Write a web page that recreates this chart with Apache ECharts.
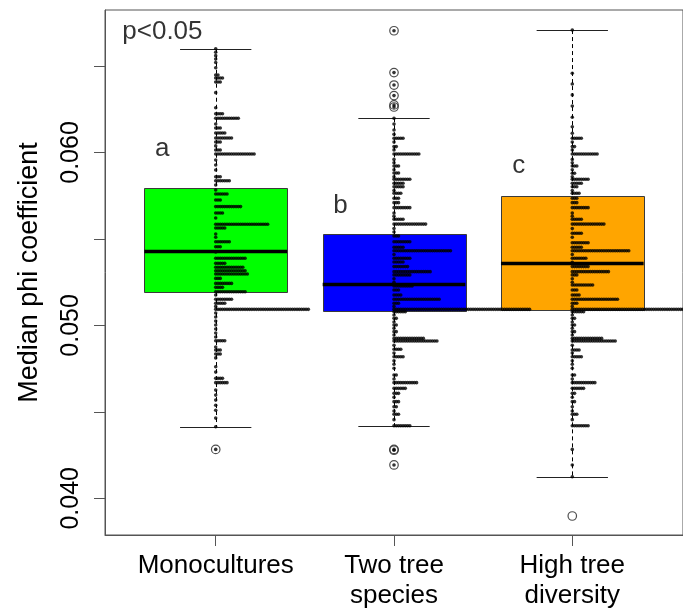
<!DOCTYPE html>
<html><head><meta charset="utf-8">
<script src="https://cdn.jsdelivr.net/npm/echarts@6/dist/echarts.min.js"></script>
<style>html,body{margin:0;padding:0;background:#fff}#c{width:683px;height:612px}</style>
</head><body><div id="c"></div>
<script>
// ---------- data ----------
const categories = ['Monocultures', 'Two tree\nspecies', 'High tree\ndiversity'];
const boxColors = ['#00FF00', '#0000FF', '#FFA500'];
const q1 = [0.05193, 0.05083, 0.05087];
const medians = [0.05428, 0.05237, 0.05358];
const q3 = [0.05792, 0.05527, 0.05747];
const whiskerLow = [0.04414, 0.04420, 0.04125];
const whiskerHigh = [0.06600, 0.06198, 0.06708];
const monoOutliers = [0.04283];
const twoOutliers = [0.06704, 0.06462, 0.06390, 0.06329, 0.06275, 0.06263, 0.04283, 0.04278, 0.04193];
const highOutliers = [0.03898];
const yTicks = [0.040, 0.045, 0.050, 0.055, 0.060, 0.065];
const yTickLabels = [0.040, 0.050, 0.060];
const letters = ['a', 'b', 'c'];
const letterX = [0.70, 1.70, 2.70];
const letterY = [0.0602, 0.0569, 0.0592];
const pText = 'p<0.05';
const pX = 0.476, pY = 0.0670;

// stacked strip points: [value, number of stacked points]
const monoStacks = [[0.0660,1],[0.0658,1],[0.0656,1],[0.0654,1],[0.0652,1],[0.0649,1],[0.06448,2],[0.06431,4],[0.06408,3],[0.06346,1],[0.06259,1],[0.06224,4],[0.06198,11],[0.06165,1],[0.06142,3],[0.06113,5],[0.06084,8],[0.06061,3],[0.06038,1],[0.06014,3],[0.05991,18],[0.05957,1],[0.05928,1],[0.05899,1],[0.05860,3],[0.05837,7],[0.05812,1],[0.05783,1],[0.05760,6],[0.05725,3],[0.05687,12],[0.05650,4],[0.05621,1],[0.05585,24],[0.05563,5],[0.05529,1],[0.05510,1],[0.05484,7],[0.05455,3],[0.05425,1],[0.05388,14],[0.05359,5],[0.05336,13],[0.05316,14],[0.05297,15],[0.05272,3],[0.05243,8],[0.05220,4],[0.05195,14],[0.05176,1],[0.05151,8],[0.05128,5],[0.05110,1],[0.05093,42],[0.05072,1],[0.05049,1],[0.05025,1],[0.05002,1],[0.04979,1],[0.04956,1],[0.04933,1],[0.04911,5],[0.04875,1],[0.04858,3],[0.04835,3],[0.04812,1],[0.04761,1],[0.04730,1],[0.04694,4],[0.04669,6],[0.04626,1],[0.04597,1],[0.04568,1],[0.04538,1],[0.04509,1],[0.04464,1],[0.04414,1],[0.04283,1]];
const twoStacks = [[0.06704,1],[0.06462,1],[0.06390,1],[0.06329,1],[0.06275,1],[0.06263,1],[0.06198,1],[0.06165,1],[0.06130,1],[0.06105,1],[0.06082,5],[0.06060,1],[0.06034,2],[0.06015,1],[0.05991,12],[0.05960,1],[0.05940,1],[0.05922,3],[0.05900,1],[0.05881,3],[0.05860,1],[0.05845,8],[0.05822,5],[0.05802,5],[0.05780,1],[0.05764,4],[0.05735,3],[0.05710,3],[0.05681,8],[0.05650,1],[0.05632,1],[0.05614,5],[0.05586,15],[0.05560,1],[0.05540,1],[0.05517,3],[0.05484,8],[0.05452,5],[0.05432,26],[0.05410,1],[0.05388,8],[0.05367,5],[0.05340,7],[0.05311,17],[0.05292,8],[0.05270,1],[0.05250,1],[0.05228,9],[0.05205,3],[0.05176,4],[0.05151,21],[0.05128,3],[0.05110,1],[0.05093,61],[0.05079,6],[0.05060,1],[0.05041,2],[0.05020,1],[0.05002,2],[0.04983,1],[0.04964,2],[0.04945,1],[0.04925,14],[0.04910,20],[0.04885,1],[0.04862,4],[0.04840,1],[0.04819,5],[0.04795,1],[0.04775,1],[0.04752,1],[0.04713,2],[0.04690,1],[0.04669,11],[0.04636,6],[0.04607,3],[0.04585,1],[0.04559,3],[0.04530,2],[0.04505,1],[0.04486,3],[0.04455,1],[0.04420,8],[0.04283,1],[0.04278,1],[0.04193,1]];
const highStacks = [[0.06708,1],[0.06458,1],[0.06396,1],[0.06333,1],[0.06269,1],[0.06204,1],[0.06149,1],[0.06111,1],[0.06082,5],[0.06060,1],[0.06034,2],[0.06015,1],[0.05991,12],[0.05960,1],[0.05940,1],[0.05922,3],[0.05900,1],[0.05880,2],[0.05860,1],[0.05845,8],[0.05822,5],[0.05802,3],[0.05780,1],[0.05764,4],[0.05735,3],[0.05710,3],[0.05681,8],[0.05650,1],[0.05632,1],[0.05614,5],[0.05586,15],[0.05560,1],[0.05533,5],[0.05510,1],[0.05478,8],[0.05452,5],[0.05432,26],[0.05410,1],[0.05388,7],[0.05365,1],[0.05340,8],[0.05311,17],[0.05292,3],[0.05270,1],[0.05250,1],[0.05234,10],[0.05205,3],[0.05176,4],[0.05151,21],[0.05128,3],[0.05110,1],[0.05093,61],[0.05079,6],[0.05060,1],[0.05041,2],[0.05020,1],[0.05002,2],[0.04983,1],[0.04964,2],[0.04945,1],[0.04925,14],[0.04910,20],[0.04885,1],[0.04858,4],[0.04840,1],[0.04819,5],[0.04795,1],[0.04775,1],[0.04752,1],[0.04713,2],[0.04690,1],[0.04669,11],[0.04636,6],[0.04607,2],[0.04585,1],[0.04559,2],[0.04530,1],[0.04505,1],[0.04486,3],[0.04455,1],[0.04420,8],[0.04283,1],[0.04193,1],[0.04125,1]];

// ---------- build ----------
const FONT = 'Liberation Sans, Arial, sans-serif';
const DOT_STEP = 0.01267;   // horizontal spacing of stacked points (x-axis units)
const BOX_HALF = 0.4, CAP_HALF = 0.2;

function stackPoints(center, stacks) {
  const pts = [];
  stacks.forEach(([v, n]) => { for (let k = 0; k < n; k++) pts.push([center + k * DOT_STEP, v]); });
  return pts;
}
const dotData = [].concat(stackPoints(1, monoStacks), stackPoints(2, twoStacks), stackPoints(3, highStacks));
const outlierData = [].concat(monoOutliers.map(v => [1, v]), twoOutliers.map(v => [2, v]), highOutliers.map(v => [3, v]));
const boxData = categories.map((c, i) => [i + 1, q1[i], medians[i], q3[i], whiskerLow[i], whiskerHigh[i]]);
const textData = letters.map((t, i) => ({ value: [letterX[i], letterY[i]], name: t }));

const crisp = v => Math.round(v) + 0.5;

const chart = echarts.init(document.getElementById('c'), null, { renderer: 'canvas' });
chart.setOption({
  animation: false,
  backgroundColor: '#fff',
  grid: { left: 105, right: -11, top: 10, bottom: 77, show: true, borderColor: '#555', borderWidth: 1 },
  xAxis: {
    type: 'value', min: 0.379, max: 3.621,
    splitLine: { show: false },
    axisLine: { show: true, lineStyle: { color: '#555' } },
    axisTick: { show: true, length: 11, customValues: [1, 2, 3], lineStyle: { color: '#555' } },
    axisLabel: {
      customValues: [1, 2, 3], formatter: v => categories[Math.round(v) - 1],
      fontSize: 26, lineHeight: 30, margin: 16, color: '#000', fontFamily: FONT
    }
  },
  yAxis: {
    type: 'value', min: 0.03788, max: 0.06824,
    splitLine: { show: false },
    axisLine: { show: true, lineStyle: { color: '#555' } },
    axisTick: { show: true, length: 11, customValues: yTicks, lineStyle: { color: '#555' } },
    axisLabel: {
      customValues: yTickLabels, formatter: v => v.toFixed(3), rotate: 90,
      fontSize: 25, lineHeight: 25, margin: 21, color: '#000', fontFamily: FONT
    },
    name: 'Median phi coefficient', nameLocation: 'middle', nameRotate: 90, nameGap: 62,
    nameTextStyle: { fontSize: 27, lineHeight: 27, color: '#000', fontFamily: FONT }
  },
  series: [
    {
      type: 'custom', data: boxData, silent: true,
      renderItem(params, api) {
        const x = api.value(0);
        const a = api.value(1), m = api.value(2), b = api.value(3), lo = api.value(4), hi = api.value(5);
        const tl = api.coord([x - BOX_HALF, b]), br = api.coord([x + BOX_HALF, a]);
        const c = api.coord([x, m]);
        const pLo = api.coord([x, lo]), pHi = api.coord([x, hi]);
        const pA = api.coord([x, a]), pB = api.coord([x, b]);
        const capL = api.coord([x - CAP_HALF, 0])[0], capR = api.coord([x + CAP_HALF, 0])[0];
        const cx = crisp(c[0]);
        return {
          type: 'group', children: [
            { type: 'line', shape: { x1: cx, y1: pHi[1], x2: cx, y2: pB[1] }, style: { stroke: '#000', lineWidth: 1, lineDash: [4, 3] } },
            { type: 'line', shape: { x1: cx, y1: pA[1], x2: cx, y2: pLo[1] }, style: { stroke: '#000', lineWidth: 1, lineDash: [4, 3] } },
            { type: 'line', shape: { x1: capL, y1: crisp(pHi[1]), x2: capR, y2: crisp(pHi[1]) }, style: { stroke: '#222', lineWidth: 1 } },
            { type: 'line', shape: { x1: capL, y1: crisp(pLo[1]), x2: capR, y2: crisp(pLo[1]) }, style: { stroke: '#222', lineWidth: 1 } },
            { type: 'rect', shape: { x: crisp(tl[0]), y: crisp(tl[1]), width: Math.round(br[0] - tl[0]), height: Math.round(br[1] - tl[1]) },
              style: { fill: boxColors[params.dataIndex], stroke: '#3a3a3a', lineWidth: 1 } },
            { type: 'line', shape: { x1: tl[0], y1: c[1], x2: br[0], y2: c[1] }, style: { stroke: '#000', lineWidth: 3.5 } }
          ]
        };
      }
    },
    {
      type: 'scatter', data: outlierData, symbol: 'circle', symbolSize: 8.5, silent: true,
      itemStyle: { color: 'rgba(0,0,0,0)', borderColor: '#222', borderWidth: 1.2 }
    },
    {
      type: 'scatter', data: dotData, symbol: 'circle', symbolSize: 3.6, silent: true,
      itemStyle: { color: '#000' }
    },
    {
      type: 'scatter', data: textData, symbolSize: 0, silent: true,
      label: { show: true, position: 'inside', formatter: p => p.name, fontSize: 26, color: '#000', fontFamily: FONT }
    },
    {
      type: 'scatter', data: [{ value: [pX, pY], name: pText }], symbolSize: 0, silent: true,
      label: { show: true, position: 'right', distance: 0, formatter: p => p.name, fontSize: 26, color: '#000', fontFamily: FONT }
    }
  ]
});
</script></body></html>
